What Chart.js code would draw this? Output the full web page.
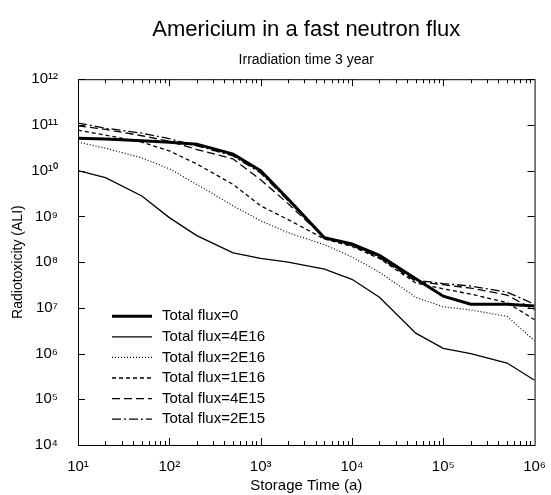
<!DOCTYPE html>
<html>
<head>
<meta charset="utf-8">
<script src="https://cdn.jsdelivr.net/npm/chart.js@4/dist/chart.umd.min.js"></script>
<style>
  html, body { margin: 0; padding: 0; background: #fff; }
  #wrap { width: 551px; height: 495px; }
</style>
</head>
<body>
<div id="wrap"><canvas id="chart" width="551" height="495"></canvas></div>
<script>
const storageTime = [10, 20, 50, 100, 200, 500, 1e3, 2e3, 5e3, 1e4, 2e4, 5e4, 1e5, 2e5, 5e5, 1e6];

const flux0    = [5.1e10, 4.9e10, 4.5e10, 4.2e10, 3.8e10, 2.3e10, 1.0e10, 2.4e9, 3.4e8, 2.5e8, 1.4e8, 4.3e7, 1.8e7, 1.2e7, 1.2e7, 1.1e7];
const flux4E16 = [1.0e10, 7.0e9, 2.8e9, 9.4e8, 3.8e8, 1.6e8, 1.2e8, 1.0e8, 7.0e7, 4.2e7, 1.7e7, 2.8e6, 1.3e6, 1.0e6, 6.2e5, 2.6e5];
const flux2E16 = [4.2e10, 3.1e10, 1.9e10, 1.1e10, 5.0e9, 1.7e9, 8.0e8, 4.4e8, 2.4e8, 1.3e8, 6.0e7, 1.7e7, 1.05e7, 9.0e6, 6.5e6, 1.9e6];
const flux1E16 = [7.7e10, 6.0e10, 4.2e10, 2.7e10, 1.4e10, 5.0e9, 1.7e9, 8.5e8, 3.2e8, 2.2e8, 1.2e8, 3.5e7, 2.6e7, 2.0e7, 1.3e7, 5.5e6];
const flux4E15 = [9.5e10, 8.0e10, 5.8e10, 4.4e10, 2.9e10, 1.8e10, 6.3e9, 1.9e9, 3.4e8, 2.3e8, 1.25e8, 3.8e7, 3.2e7, 2.7e7, 1.9e7, 9.0e6];
const flux2E15 = [1.1e11, 8.5e10, 6.6e10, 5.0e10, 3.5e10, 2.1e10, 8.9e9, 2.2e9, 3.5e8, 2.4e8, 1.3e8, 4.0e7, 3.4e7, 3.0e7, 2.2e7, 1.2e7];

const seriesLabels = ['Total flux=0', 'Total flux=4E16', 'Total flux=2E16', 'Total flux=1E16', 'Total flux=4E15', 'Total flux=2E15'];

const xTicks = [1e1, 1e2, 1e3, 1e4, 1e5, 1e6];
const yTicks = [1e4, 1e5, 1e6, 1e7, 1e8, 1e9, 1e10, 1e11, 1e12];

const FONT = '"Liberation Sans", Arial, Helvetica, sans-serif';
const SUP = { '0': '\u2070', '1': '\u00b9', '2': '\u00b2', '3': '\u00b3', '4': '\u2074', '5': '\u2075', '6': '\u2076', '7': '\u2077', '8': '\u2078', '9': '\u2079' };

function powLabel(v) {
  const e = Math.round(Math.log10(v));
  return '10' + String(e).split('').map(c => SUP[c]).join('');
}

function points(ys) {
  return storageTime.map((x, i) => ({ x, y: ys[i] }));
}

const styles = [
  { data: flux0, borderWidth: 3, borderDash: [] },
  { data: flux4E16, borderWidth: 1.3, borderDash: [] },
  { data: flux2E16, borderWidth: 1.2, borderDash: [1, 2] },
  { data: flux1E16, borderWidth: 1.3, borderDash: [4, 3] },
  { data: flux4E15, borderWidth: 1.3, borderDash: [8, 4] },
  { data: flux2E15, borderWidth: 1.3, borderDash: [9, 3, 2, 3] },
];

const datasets = styles.map((s, i) => ({
  label: seriesLabels[i],
  data: points(s.data),
  borderColor: '#000',
  borderWidth: s.borderWidth,
  borderDash: s.borderDash,
  pointRadius: 0,
  fill: false,
  tension: 0,
}));

// frame plus inward ticks on all four sides
const frameTicks = {
  id: 'frameTicks',
  afterDatasetsDraw(chart) {
    const { ctx, chartArea: a, scales } = chart;
    ctx.save();
    ctx.strokeStyle = '#000';
    ctx.lineWidth = 1;
    ctx.strokeRect(a.left + 0.5, a.top + 0.5, a.right - a.left, a.bottom - a.top);
    ctx.beginPath();
    for (let d = 1; d < 6; d++) {
      for (let m = 1; m < 10; m++) {
        const v = m * Math.pow(10, d);
        const px = Math.round(scales.x.getPixelForValue(v)) + 0.5;
        const len = m === 1 ? 7 : 4;
        ctx.moveTo(px, a.bottom); ctx.lineTo(px, a.bottom - len);
        ctx.moveTo(px, a.top); ctx.lineTo(px, a.top + len);
      }
    }
    yTicks.forEach(v => {
      const py = Math.round(scales.y.getPixelForValue(v)) + 0.5;
      ctx.moveTo(a.left, py); ctx.lineTo(a.left + 7, py);
      ctx.moveTo(a.right, py); ctx.lineTo(a.right - 7, py);
    });
    ctx.stroke();
    ctx.restore();
  },
};

// legend inside the plot, lower left
const insideLegend = {
  id: 'insideLegend',
  afterDatasetsDraw(chart) {
    const { ctx, chartArea: a } = chart;
    const x0 = a.left + 34;
    const y0 = a.top + 237;
    ctx.save();
    ctx.font = '15px ' + FONT;
    ctx.textBaseline = 'middle';
    ctx.fillStyle = '#000';
    chart.data.datasets.forEach((ds, i) => {
      const y = y0 + i * 20.6;
      ctx.beginPath();
      ctx.setLineDash(ds.borderDash);
      ctx.lineWidth = ds.borderWidth;
      ctx.strokeStyle = '#000';
      ctx.moveTo(x0, y); ctx.lineTo(x0 + 40, y);
      ctx.stroke();
      ctx.setLineDash([]);
      ctx.fillText(ds.label, x0 + 50, y);
    });
    ctx.restore();
  },
};

new Chart(document.getElementById('chart'), {
  type: 'line',
  data: { datasets },
  plugins: [frameTicks, insideLegend],
  options: {
    responsive: false,
    animation: false,
    layout: { padding: { left: 10, right: 11, top: 0, bottom: 0 } },
    plugins: {
      legend: { display: false },
      tooltip: { enabled: false },
      title: {
        display: true,
        text: 'Americium in a fast neutron flux',
        fullSize: false,
        color: '#000',
        font: { family: FONT, size: 22, weight: 'normal' },
        padding: { top: 17, bottom: 8 },
      },
      subtitle: {
        display: true,
        text: 'Irradiation time 3 year',
        fullSize: false,
        color: '#000',
        font: { family: FONT, size: 14, weight: 'normal' },
        padding: { top: 0, bottom: 11 },
      },
    },
    scales: {
      x: {
        type: 'logarithmic',
        min: 10,
        max: 1e6,
        afterBuildTicks(scale) { scale.ticks = xTicks.map(v => ({ value: v })); },
        afterFit(scale) { scale.height = 50; },
        grid: { display: false },
        border: { display: false },
        ticks: {
          color: '#000',
          font: { family: FONT, size: 15 },
          maxRotation: 0,
          autoSkip: false,
          padding: 5,
          callback: v => powLabel(v),
        },
        title: {
          display: true,
          text: 'Storage Time (a)',
          color: '#000',
          font: { family: FONT, size: 15 },
          padding: { top: 0, bottom: 0 },
        },
      },
      y: {
        type: 'logarithmic',
        min: 1e4,
        max: 1e12,
        afterBuildTicks(scale) { scale.ticks = yTicks.map(v => ({ value: v })); },
        afterFit(scale) { scale.width = 68; },
        grid: { display: false },
        border: { display: false },
        ticks: {
          color: '#000',
          font: { family: FONT, size: 15 },
          autoSkip: false,
          padding: 12,
          callback: v => powLabel(v),
        },
        title: {
          display: true,
          text: 'Radiotoxicity (ALI)',
          color: '#000',
          font: { family: FONT, size: 14 },
          padding: { top: 0, bottom: 4 },
        },
      },
    },
  },
});
</script>
</body>
</html>
